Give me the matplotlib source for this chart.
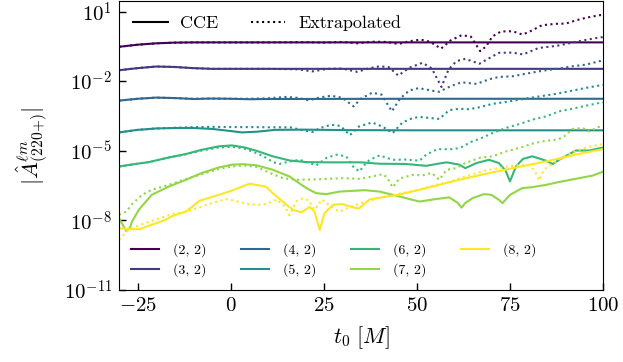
import numpy as np
import matplotlib
matplotlib.use("Agg")
import matplotlib.pyplot as plt
from matplotlib.lines import Line2D
from matplotlib.ticker import FixedLocator, FuncFormatter, NullLocator

plt.rcParams['font.family'] = 'serif'
plt.rcParams['font.serif'] = ['cmr10', 'DejaVu Serif']
plt.rcParams['mathtext.fontset'] = 'cm'
plt.rcParams['axes.unicode_minus'] = False
plt.rcParams['axes.formatter.use_mathtext'] = True

labels = ["(2, 2)", "(3, 2)", "(4, 2)", "(5, 2)", "(6, 2)", "(7, 2)", "(8, 2)"]

# log10 amplitudes
t_cce_22 = [-30, -25, -20, -15, -10, 0, 50, 100]
lg_cce_22 = [-0.52, -0.43, -0.37, -0.34, -0.33, -0.33, -0.33, -0.33]
t_ext_22 = [-30, -25, -20, -15, -10, 0, 10, 20, 25, 30, 34, 38, 42, 45, 48, 51, 53.5, 56.5, 59, 62, 64.5, 67,
            68.6, 70.3, 72.6, 75.7, 78.3, 80, 83.6, 87.3, 90, 92.7, 95.4, 99, 100]
lg_ext_22 = [-0.52, -0.43, -0.37, -0.34, -0.33, -0.33, -0.33, -0.32, -0.34, -0.31, -0.37, -0.30, -0.31, -0.40,
             -0.28, -0.21, -0.30, -0.60, -0.25, -0.02, -0.08, -0.71, -0.50, -0.07, 0.14, 0.15, 0.01, 0.11,
             0.41, 0.47, 0.48, 0.62, 0.73, 0.84, 0.86]

t_cce_32 = [-30, -25, -20, -15, -10, -5, 0, 50, 100]
lg_cce_32 = [-1.53, -1.44, -1.37, -1.39, -1.44, -1.47, -1.47, -1.47, -1.47]
t_ext_32 = [-30, -25, -20, -15, -10, -5, 0, 10, 18, 22, 26, 30, 34, 37, 40, 42.5, 45, 48, 51.5, 54, 56.6,
            58.5, 60.6, 63, 66.8, 69, 72, 75.7, 78.5, 82.7, 87.5, 90, 94.4, 99, 100]
lg_ext_32 = [-1.53, -1.44, -1.37, -1.39, -1.44, -1.47, -1.47, -1.47, -1.49, -1.58, -1.47, -1.46, -1.60,
             -1.45, -1.36, -1.40, -1.76, -1.42, -1.21, -1.45, -2.25, -1.50, -1.14, -1.04, -1.25, -1.05,
             -0.78, -0.77, -0.85, -0.57, -0.48, -0.40, -0.25, -0.12, -0.10]

t_cce_42 = [-30, -25, -20, -15, -10, -5, 0, 5, 10, 50, 100]
lg_cce_42 = [-2.84, -2.76, -2.71, -2.73, -2.77, -2.75, -2.76, -2.78, -2.77, -2.76, -2.76]
t_ext_42 = [-30, -25, -20, -15, -10, -5, 0, 5, 10, 15, 18, 21, 24, 27, 30, 33, 35, 38, 40.5, 43.3, 45.5, 48,
            50.5, 54, 56, 59, 62, 66, 69.4, 72, 75.7, 79.3, 83.8, 88, 91.8, 95.4, 99, 100]
lg_ext_42 = [-2.84, -2.76, -2.71, -2.73, -2.76, -2.75, -2.76, -2.76, -2.74, -2.68, -2.72, -2.83, -2.70,
             -2.63, -2.72, -3.09, -2.75, -2.50, -2.58, -3.30, -2.75, -2.40, -2.30, -2.41, -2.46, -2.22,
             -2.05, -2.12, -1.92, -1.82, -1.79, -1.68, -1.55, -1.46, -1.36, -1.29, -1.14, -1.12]

t_cce_52 = [-30, -25, -20, -15, -10, -5, 0, 3, 7, 12, 20, 30, 50, 100]
lg_cce_52 = [-4.21, -4.10, -4.04, -4.02, -4.02, -4.06, -4.15, -4.21, -4.18, -4.10, -4.09, -4.11, -4.12, -4.12]
t_ext_52 = [-30, -25, -20, -15, -10, -5, 0, 5, 10, 16, 20, 22, 24, 27, 29.5, 32, 34.5, 38, 41, 43.5, 46, 48,
            50.5, 53, 56, 58.7, 61.4, 64, 66.7, 70.3, 73.9, 77.5, 82.8, 87.3, 90.8, 95.4, 99, 100]
lg_ext_52 = [-4.21, -4.10, -4.04, -4.01, -3.98, -3.97, -3.98, -3.98, -3.99, -3.99, -4.14, -4.19, -4.02,
             -3.88, -3.93, -4.33, -3.95, -3.78, -3.98, -4.24, -3.80, -3.64, -3.54, -3.58, -3.63, -3.25,
             -3.19, -3.21, -3.13, -2.98, -2.90, -2.80, -2.66, -2.55, -2.44, -2.29, -2.19, -2.17]

t_cce_62 = [-30, -26, -22, -16.6, -12, -7.8, -3.2, 0.3, 3.5, 6.9, 11.3, 15.8, 20.3, 25.7, 30, 35, 40, 47,
            52.5, 56, 58, 61.4, 63, 66, 69.4, 72, 73.8, 75, 76.6, 78.5, 81, 84.7, 86.5, 89, 92.7, 96.3, 100]
lg_cce_62 = [-5.68, -5.58, -5.49, -5.29, -5.14, -4.96, -4.81, -4.77, -4.85, -5.00, -5.24, -5.42, -5.49,
             -5.50, -5.50, -5.50, -5.56, -5.57, -5.65, -5.55, -5.50, -5.60, -5.75, -5.53, -5.39, -5.53,
             -5.85, -6.32, -5.68, -5.35, -5.24, -5.43, -5.57, -5.31, -4.99, -4.99, -4.86]
t_ext_62 = [-30, -26, -22, -16.6, -12, -7.8, -3.2, 0.3, 3.5, 6.9, 9.6, 11.3, 13.1, 15.8, 18.5, 21.2, 23,
            25.7, 28.4, 31, 33.2, 34.6, 36, 37.3, 40, 43.5, 47, 50.7, 52.5, 55.5, 60, 62.2, 64.5, 67, 70.3,
            73.9, 77.5, 81, 84.7, 88.2, 91.8, 95.4, 99, 100]
lg_ext_62 = [-5.68, -5.58, -5.49, -5.29, -5.15, -4.99, -4.86, -4.83, -4.90, -5.10, -5.31, -5.49, -5.57,
             -5.46, -5.39, -5.53, -5.63, -5.31, -5.17, -5.24, -5.75, -5.89, -5.60, -5.39, -5.20, -5.39,
             -5.38, -5.43, -5.17, -4.93, -4.93, -4.83, -4.62, -4.48, -4.24, -4.02, -3.85, -3.66, -3.52,
             -3.30, -3.19, -3.06, -2.94, -2.92]

t_cce_72 = [-30, -29, -28, -27, -26.5, -24.7, -21.2, -16.6, -12, -7.8, -3.2, 0.3, 3.5, 7, 11.3, 15.8, 20.3,
            23, 25.7, 29.2, 36, 40, 45.3, 50.7, 55.2, 58.7, 61, 62, 63, 65, 68, 70, 72, 73, 75, 78.3, 81,
            84.7, 89, 93.6, 97.2, 100]
lg_cce_72 = [-7.90, -8.20, -8.47, -8.30, -8.05, -7.55, -6.90, -6.54, -6.25, -5.96, -5.72, -5.60, -5.58,
             -5.63, -5.82, -6.11, -6.61, -6.83, -6.87, -6.76, -6.70, -6.76, -6.97, -7.19, -7.08, -7.01,
             -7.25, -7.45, -7.25, -7.04, -6.87, -6.90, -7.11, -7.26, -6.90, -6.61, -6.57, -6.47, -6.32,
             -6.18, -6.07, -5.90]
t_ext_72 = [-30, -28, -26.5, -23.8, -21.2, -16.6, -12, -7.8, -3.2, 0.3, 3.5, 7, 11.3, 14, 17.6, 21, 24.8,
            30, 34.6, 38, 40.8, 42, 43.5, 45.3, 48.9, 51.5, 54, 56, 58, 60.6, 63, 67, 70.3, 73.9, 77.5,
            81.5, 84.7, 87.8, 89.6, 91.8, 94.5, 96.3, 98.6, 100]
lg_ext_72 = [-7.76, -7.62, -7.30, -6.90, -6.68, -6.47, -6.22, -6.01, -5.79, -5.68, -5.63, -5.70, -6.01,
             -6.18, -6.25, -6.24, -6.22, -6.18, -6.21, -6.11, -6.01, -6.15, -6.58, -6.20, -6.04, -6.06,
             -5.96, -6.25, -5.82, -5.75, -5.53, -5.30, -5.24, -5.03, -4.88, -4.67, -4.57, -4.52, -4.38,
             -4.06, -4.02, -4.17, -3.98, -3.96]

t_cce_82 = [-30, -27, -24.5, -21.2, -17.4, -15.5, -12, -8.3, -3.2, 0.3, 5, 9.5, 11.3, 14, 16.7, 19, 21.2,
            22.5, 23.9, 25.2, 27.5, 30, 33, 34.5, 37.3, 40, 45, 52.5, 61.4, 68, 75.7, 84.7, 93.6, 100]
lg_cce_82 = [-8.34, -8.38, -8.38, -8.19, -7.97, -7.80, -7.62, -7.15, -6.90, -6.72, -6.42, -6.55, -6.83,
             -7.19, -7.55, -7.65, -7.42, -7.62, -8.41, -7.69, -7.33, -7.30, -7.45, -7.48, -7.10, -7.02,
             -6.90, -6.61, -6.25, -6.01, -5.75, -5.46, -5.13, -4.93]
t_ext_82 = [-30, -28, -26, -22.6, -19, -15.5, -11.8, -6.5, -1.2, 1, 4.2, 7, 9.5, 12.3, 14.5, 15.8, 17.6,
            19.4, 21, 22.5, 24.5, 26.5, 29.2, 32, 36.4, 40.8, 45.3, 49.8, 54, 58.7, 63, 68.6, 72, 76.6, 80,
            81.6, 82.8, 84.2, 87.3, 90, 94.5, 99, 100]
lg_ext_82 = [-8.84, -8.48, -8.30, -8.10, -7.91, -7.72, -7.62, -7.33, -7.08, -7.15, -7.29, -7.33, -7.30,
             -7.10, -7.40, -7.78, -7.19, -7.04, -7.15, -7.55, -7.10, -7.35, -7.63, -7.42, -7.19, -7.00,
             -6.85, -6.70, -6.52, -6.33, -6.11, -5.84, -5.75, -5.63, -5.62, -5.85, -6.28, -5.80, -5.46,
             -5.20, -4.90, -4.74, -4.72]

cce_t = [t_cce_22, t_cce_32, t_cce_42, t_cce_52, t_cce_62, t_cce_72, t_cce_82]
cce_lg = [lg_cce_22, lg_cce_32, lg_cce_42, lg_cce_52, lg_cce_62, lg_cce_72, lg_cce_82]
ext_t = [t_ext_22, t_ext_32, t_ext_42, t_ext_52, t_ext_62, t_ext_72, t_ext_82]
ext_lg = [lg_ext_22, lg_ext_32, lg_ext_42, lg_ext_52, lg_ext_62, lg_ext_72, lg_ext_82]

colors = plt.cm.viridis(np.linspace(0, 1, len(labels)))

fig = plt.figure(figsize=(6.23, 3.62), dpi=100)
ax = fig.add_axes([0.191, 0.199, 0.777, 0.798])

handles = []
for i in range(len(labels)):
    h, = ax.plot(cce_t[i], 10.0 ** np.array(cce_lg[i]), color=colors[i], lw=1.5, ls='-', label=labels[i])
    ax.plot(ext_t[i], 10.0 ** np.array(ext_lg[i]), color=colors[i], lw=1.5, ls=':')
    handles.append(h)

ax.set_yscale('log')
ax.set_xlim(-30, 100)
ax.set_ylim(1e-11, 10 ** 1.45)
ax.yaxis.set_major_locator(FixedLocator([1e-11, 1e-8, 1e-5, 1e-2, 1e1]))
ax.yaxis.set_minor_locator(NullLocator())
ax.yaxis.set_major_formatter(FuncFormatter(lambda v, p: r'$10^{%d}$' % int(round(np.log10(v)))))
ax.set_xticks([-25, 0, 25, 50, 75, 100])
ax.xaxis.set_major_formatter(FuncFormatter(lambda v, p: r'$%d$' % int(round(v))))
ax.tick_params(direction='in', labelsize=15, length=5, width=1, pad=5, top=False, right=False)
ax.set_xlabel(r'$t_0\ [M]$', fontsize=16, labelpad=7)
ax.set_ylabel(r'$|\hat{A}^{\ell m}_{(220{+})}|$', fontsize=16, labelpad=10)

leg_top = ax.legend([Line2D([], [], color='k', lw=1.5, ls='-'), Line2D([], [], color='k', lw=1.5, ls=':')],
                    ['CCE', 'Extrapolated'], loc='upper left', ncol=2, frameon=False, fontsize=13,
                    handlelength=1.9, handletextpad=0.7, columnspacing=1.8, borderaxespad=0.4)
ax.add_artist(leg_top)
ax.legend(handles=handles, loc='lower left', ncol=4, frameon=False, fontsize=10,
          handlelength=2.0, handletextpad=1.0, columnspacing=2.5, labelspacing=0.45, borderaxespad=0.5)

fig.savefig('out.png', dpi=100)
